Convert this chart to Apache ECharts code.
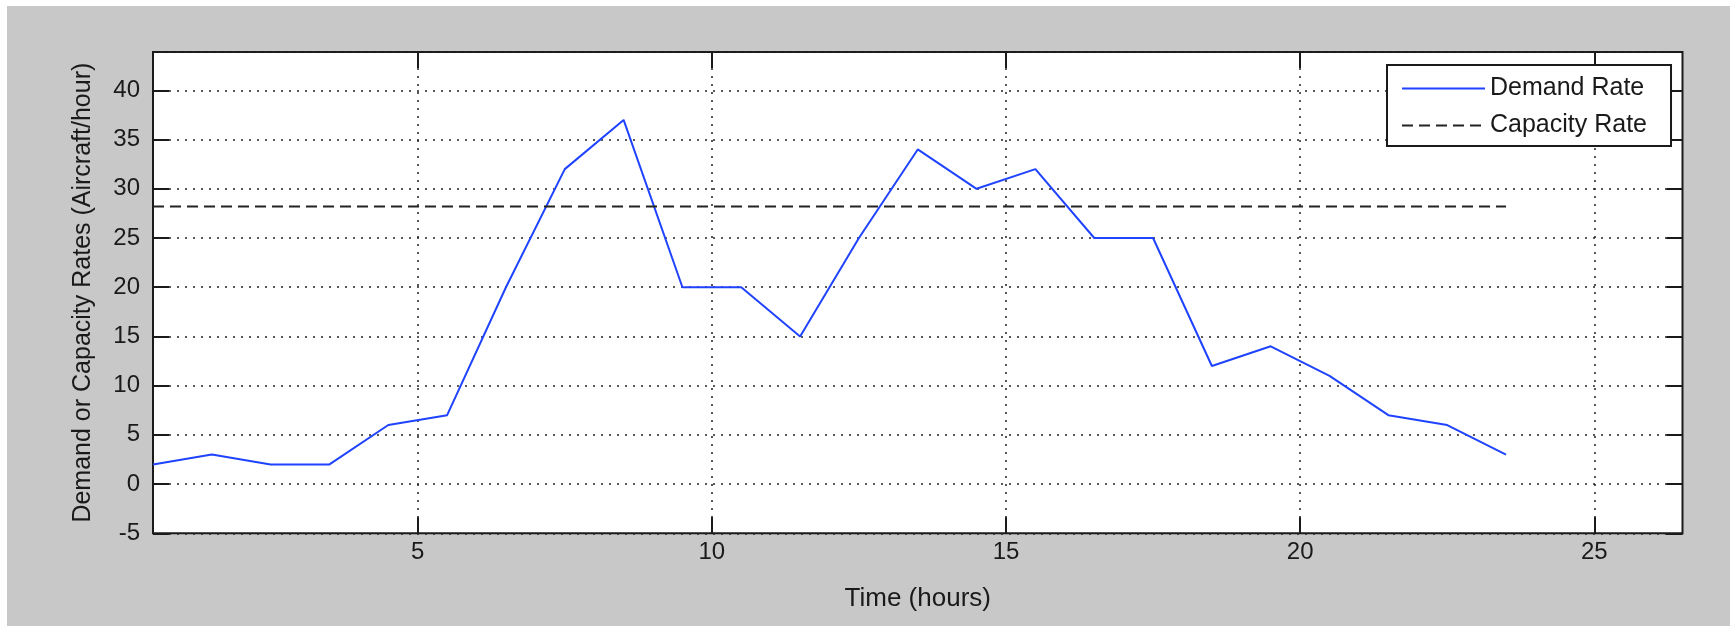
<!DOCTYPE html>
<html>
<head>
<meta charset="utf-8">
<script src="https://cdn.jsdelivr.net/npm/echarts@6/dist/echarts.min.js"></script>
<style>
  html, body { margin: 0; padding: 0; background: #ffffff; }
  #chart { position: absolute; left: 7px; top: 6px; width: 1723px; height: 620px; }
</style>
</head>
<body>
<div id="chart"></div>
<script>
// ---- data ----
const hours = [0.5, 1.5, 2.5, 3.5, 4.5, 5.5, 6.5, 7.5, 8.5, 9.5, 10.5, 11.5,
               12.5, 13.5, 14.5, 15.5, 16.5, 17.5, 18.5, 19.5, 20.5, 21.5, 22.5, 23.5];
const demandRate = [2, 3, 2, 2, 6, 7, 20, 32, 37, 20, 20, 15,
                    25, 34, 30, 32, 25, 25, 12, 14, 11, 7, 6, 3];
const capacityRate = 28.2;
const xTicks = [5, 10, 15, 20, 25];
const seriesNames = ['Demand Rate', 'Capacity Rate'];
const xTitle = 'Time (hours)';
const yTitle = 'Demand or Capacity Rates (Aircraft/hour)';

const demandData = hours.map((h, i) => [h, demandRate[i]]);
const capacityData = [[hours[0], capacityRate], [hours[hours.length - 1], capacityRate]];

const FONT = 'Liberation Sans, Arial, Helvetica, sans-serif';
const INK = '#1a1a1a';
const gridDots = { color: '#222', width: 1.5, type: [2, 6] };
const tickStyle = { color: INK, width: 2 };

const chart = echarts.init(document.getElementById('chart'), null, { renderer: 'canvas' });
chart.setOption({
  backgroundColor: '#c8c8c8',
  animation: false,
  textStyle: { fontFamily: FONT },
  grid: {
    left: 146, top: 46, right: 47.5, bottom: 92.7,
    show: true, backgroundColor: '#ffffff', borderColor: INK, borderWidth: 2
  },
  legend: {
    orient: 'vertical',
    left: 1380, top: 59,
    backgroundColor: '#ffffff',
    borderColor: INK, borderWidth: 2, borderRadius: 0,
    padding: [11, 24, 8, 14],
    itemWidth: 83, itemHeight: 20, itemGap: 12,
    itemStyle: { opacity: 0 },
    textStyle: { fontFamily: FONT, fontSize: 25, color: INK, lineHeight: 25 },
    data: seriesNames
  },
  xAxis: [{
    type: 'value', min: 0.5, max: 26.5, position: 'bottom',
    name: xTitle, nameLocation: 'middle', nameGap: 53,
    nameTextStyle: { fontFamily: FONT, fontSize: 26, color: INK },
    axisLine: { show: false, onZero: false },
    axisTick: { show: true, inside: true, length: 16, customValues: xTicks, lineStyle: tickStyle },
    axisLabel: { customValues: xTicks, fontFamily: FONT, fontSize: 24, color: INK, margin: 7 },
    splitLine: { show: true, lineStyle: gridDots }
  }, {
    type: 'value', min: 0.5, max: 26.5, position: 'top',
    axisLine: { show: false, onZero: false },
    axisTick: { show: true, inside: true, length: 16, customValues: xTicks, lineStyle: tickStyle },
    axisLabel: { show: false },
    splitLine: { show: false }
  }],
  yAxis: [{
    type: 'value', min: -5, max: 43.9, interval: 5, position: 'left',
    name: yTitle, nameLocation: 'middle', nameGap: 57, nameRotate: 90,
    nameTextStyle: { fontFamily: FONT, fontSize: 25, color: INK },
    axisLine: { show: false, onZero: false },
    axisTick: { show: true, inside: true, length: 16, lineStyle: tickStyle },
    axisLabel: { showMaxLabel: false, fontFamily: FONT, fontSize: 24, color: INK, margin: 13 },
    splitLine: { show: true, lineStyle: gridDots }
  }, {
    type: 'value', min: -5, max: 43.9, interval: 5, position: 'right',
    axisLine: { show: false, onZero: false },
    axisTick: { show: true, inside: true, length: 16, lineStyle: tickStyle },
    axisLabel: { show: false },
    splitLine: { show: false }
  }],
  series: [{
    name: seriesNames[0], type: 'line', data: demandData,
    xAxisIndex: 0, yAxisIndex: 0,
    symbol: 'none', smooth: false,
    lineStyle: { color: '#1f43ff', width: 2 },
    itemStyle: { color: '#1f43ff' }
  }, {
    name: seriesNames[1], type: 'line', data: capacityData,
    xAxisIndex: 0, yAxisIndex: 0,
    symbol: 'none',
    lineStyle: { color: '#222222', width: 2, type: [11, 6] },
    itemStyle: { color: '#222222' }
  }]
});
</script>
</body>
</html>
